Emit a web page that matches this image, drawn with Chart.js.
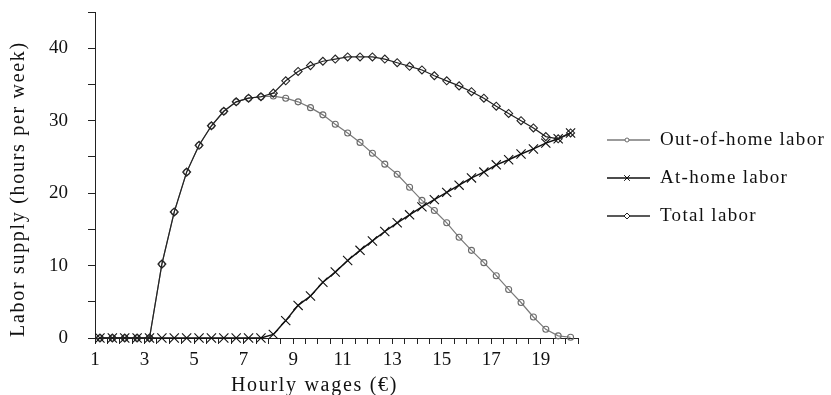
<!doctype html>
<html>
  <head>
    <title>Labor supply</title>
    <style>
      body { margin: 0; background: #fff; }
    </style>
  </head>
  <body>
    <canvas id="labor_chart" width="831" height="395"></canvas>
  </body>
  <script src="https://cdn.jsdelivr.net/npm/chart.js"></script>
  <script>
    // wages in euro
    const wages = [1.2, 1.7, 2.2, 2.7, 3.2, 3.7, 4.2, 4.7, 5.2, 5.7, 6.2, 6.7, 7.2, 7.7,
                   8.2, 8.7, 9.2, 9.7, 10.2, 10.7, 11.2, 11.7, 12.2, 12.7, 13.2, 13.7,
                   14.2, 14.7, 15.2, 15.7, 16.2, 16.7, 17.2, 17.7, 18.2, 18.7, 19.2, 19.7, 20.2];
    const outOfHome = [0, 0, 0, 0, 0, 10.2, 17.4, 22.9, 26.6, 29.3, 31.3, 32.6, 33.1, 33.3,
                       33.4, 33.1, 32.6, 31.8, 30.8, 29.5, 28.3, 27.0, 25.5, 24.0, 22.6, 20.8,
                       19.0, 17.6, 15.9, 13.9, 12.1, 10.4, 8.6, 6.7, 4.9, 2.9, 1.2, 0.3, 0.1];
    const atHome = [0, 0, 0, 0, 0, 0, 0, 0, 0, 0, 0, 0, 0, 0,
                    0.5, 2.4, 4.5, 5.8, 7.7, 9.1, 10.7, 12.1, 13.4, 14.7, 15.9, 17.0,
                    18.1, 19.1, 20.1, 21.1, 22.1, 22.9, 23.9, 24.6, 25.4, 26.1, 26.9, 27.5, 28.3];
    const total = [0, 0, 0, 0, 0, 10.2, 17.4, 22.9, 26.6, 29.3, 31.3, 32.6, 33.1, 33.3,
                   33.8, 35.5, 36.8, 37.6, 38.2, 38.5, 38.8, 38.8, 38.8, 38.5, 38.0, 37.5,
                   37.0, 36.2, 35.5, 34.8, 34.0, 33.1, 32.0, 31.0, 30.0, 29.0, 27.8, 27.5, 28.3];

    const seriesNames = ['Out-of-home labor', 'At-home labor', 'Total labor'];
    const xTitle = 'Hourly wages (\u20AC)';
    const yTitle = 'Labor supply (hours per week)';
    const xLabels = [1, 3, 5, 7, 9, 11, 13, 15, 17, 19];
    const yLabels = [0, 10, 20, 30, 40];

    const serif = '"Liberation Serif", "Times New Roman", serif';
    Chart.defaults.font.family = serif;
    Chart.defaults.color = '#111';

    function points(values) {
      return wages.map((w, i) => ({ x: w, y: values[i] }));
    }

    // legend and axis titles, drawn by hand to get the wide letter spacing
    const extras = {
      id: 'extras',
      afterDraw(chart) {
        const ctx = chart.ctx;
        const area = chart.chartArea;
        ctx.save();
        ctx.fillStyle = '#111';

        ctx.font = '20px ' + serif;
        ctx.letterSpacing = '1.7px';
        ctx.textAlign = 'center';
        ctx.textBaseline = 'alphabetic';
        ctx.fillText(xTitle, (area.left + area.right) / 2 - 22, 391);

        ctx.save();
        ctx.translate(24, area.bottom - 1);
        ctx.rotate(-Math.PI / 2);
        ctx.textAlign = 'left';
        ctx.fillText(yTitle, 0, 0);
        ctx.restore();

        ctx.font = '19px ' + serif;
        ctx.letterSpacing = '1.3px';
        ctx.textAlign = 'left';
        chart.data.datasets.forEach((ds, i) => {
          const y = 140 + i * 38;
          const x0 = area.right + 29;
          ctx.strokeStyle = ds.borderColor;
          ctx.lineWidth = 1.3;
          ctx.beginPath();
          ctx.moveTo(x0, y);
          ctx.lineTo(x0 + 43, y);
          ctx.stroke();
          ctx.fillStyle = '#fff';
          ctx.strokeStyle = ds.pointBorderColor;
          ctx.lineWidth = 1;
          Chart.helpers.drawPoint(ctx, {
            pointStyle: ds.pointStyle, radius: ds.legendRadius, borderWidth: 1, rotation: 0
          }, x0 + 20, y);
          ctx.fillStyle = '#111';
          ctx.fillText(seriesNames[i], x0 + 53, y + 5);
        });
        ctx.restore();
      }
    };

    const chart = new Chart(document.getElementById('labor_chart'), {
      type: 'line',
      data: {
        datasets: [{
          label: seriesNames[0],
          data: points(outOfHome),
          borderColor: '#7a7a7a',
          borderWidth: 1.2,
          pointStyle: 'circle',
          pointRadius: 3,
          pointBorderColor: '#6a6a6a',
          pointBackgroundColor: 'rgba(0,0,0,0)',
          pointBorderWidth: 1.1,
          legendRadius: 2,
          order: 3,
          clip: false
        }, {
          label: seriesNames[1],
          data: points(atHome),
          borderColor: '#111',
          borderWidth: 1.5,
          pointStyle: 'crossRot',
          pointRadius: 6.5,
          pointBorderColor: '#111',
          pointBorderWidth: 1.1,
          legendRadius: 4,
          order: 2,
          clip: false
        }, {
          label: seriesNames[2],
          data: points(total),
          borderColor: '#222',
          borderWidth: 1.2,
          pointStyle: 'rectRot',
          pointRadius: 4,
          pointBorderColor: '#222',
          pointBackgroundColor: 'rgba(0,0,0,0)',
          pointBorderWidth: 1.1,
          legendRadius: 3,
          order: 1,
          clip: false
        }]
      },
      options: {
        responsive: false,
        animation: false,
        devicePixelRatio: 1,
        layout: { padding: { left: 0, top: 12, right: 253, bottom: 0 } },
        plugins: {
          legend: { display: false },
          tooltip: { enabled: false }
        },
        elements: { line: { tension: 0 } },
        scales: {
          x: {
            type: 'linear',
            min: 1,
            max: 20.5,
            border: { display: true, color: '#222', width: 1 },
            grid: { drawOnChartArea: false, drawTicks: true, tickLength: 6, color: '#222' },
            ticks: {
              stepSize: 0.5,
              autoSkip: false,
              maxRotation: 0,
              padding: 5,
              font: { size: 19 },
              callback: (v) => xLabels.includes(v) ? String(v) : ''
            },
            afterFit(scale) { scale.height = 57; }
          },
          y: {
            min: 0,
            max: 45,
            border: { display: true, color: '#222', width: 1 },
            grid: { drawOnChartArea: false, drawTicks: true, tickLength: 7, color: '#222' },
            ticks: {
              stepSize: 5,
              autoSkip: false,
              padding: 20,
              font: { size: 19 },
              callback: (v) => yLabels.includes(v) ? String(v) : ''
            },
            afterFit(scale) {
              scale.width = 95;
              scale.paddingTop = 0;
              scale.paddingBottom = 0;
            }
          }
        }
      },
      plugins: [extras]
    });
  </script>
</html>
